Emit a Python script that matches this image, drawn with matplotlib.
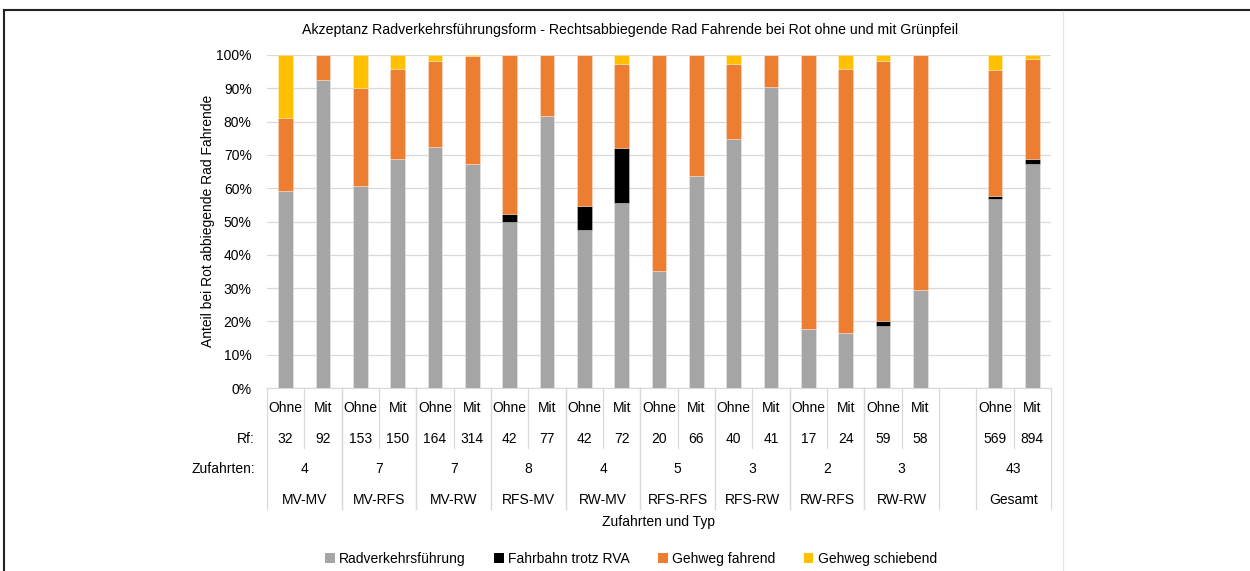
import matplotlib
matplotlib.use("Agg")
import matplotlib.pyplot as plt
from matplotlib.lines import Line2D
from matplotlib.patches import Patch
from matplotlib.transforms import blended_transform_factory
import numpy as np

plt.rcParams['font.family'] = ['Liberation Sans', 'DejaVu Sans']

title = "Akzeptanz Radverkehrsführungsform - Rechtsabbiegende Rad Fahrende bei Rot ohne und mit Grünpfeil"
types = ["MV-MV", "MV-RFS", "MV-RW", "RFS-MV", "RW-MV", "RFS-RFS", "RFS-RW", "RW-RFS", "RW-RW", "Gesamt"]
zufahrten = [4, 7, 7, 8, 4, 5, 3, 2, 3, 43]
variants = ["Ohne", "Mit"]
rf = [32, 92, 153, 150, 164, 314, 42, 77, 42, 72, 20, 66, 40, 41, 17, 24, 59, 58, 569, 894]

# shares in percent, one value per bar (Ohne, Mit per type)
radverkehr = [59.3, 92.4, 60.8, 68.7, 72.5, 67.4, 49.9, 81.8, 47.5, 55.5,
              35.0, 63.6, 74.9, 90.3, 17.6, 16.5, 18.6, 29.3, 56.8, 67.4]
fahrbahn = [0, 0, 0, 0, 0, 0, 2.4, 0, 7.2, 16.6,
            0, 0, 0, 0, 0, 0, 1.6, 0, 0.9, 1.4]
gehweg_fahrend = [21.9, 7.6, 29.4, 27.2, 25.7, 32.2, 47.7, 18.2, 45.3, 25.1,
                  65.0, 36.4, 22.5, 9.7, 82.4, 79.3, 78.1, 70.7, 37.7, 30.1]
gehweg_schiebend = [18.8, 0, 9.8, 4.1, 1.8, 0.4, 0, 0, 0, 2.8,
                    0, 0, 2.6, 0, 0, 4.2, 1.7, 0, 4.6, 1.1]

series = [("Radverkehrsführung", radverkehr, "#a5a5a5"),
          ("Fahrbahn trotz RVA", fahrbahn, "#000000"),
          ("Gehweg fahrend", gehweg_fahrend, "#ed7d31"),
          ("Gehweg schiebend", gehweg_schiebend, "#ffc000")]

W, H = 1250, 571
fig = plt.figure(figsize=(W / 100, H / 100), dpi=100)
ax = fig.add_axes([267 / W, 1 - 388 / H, (1051 - 267) / W, (388 - 55) / H])

# slot positions: 9 types x 2, one empty slot, then Gesamt
slots = list(range(18)) + [19, 20]
x = np.array(slots)

bottom = np.zeros(len(x))
for name, vals, col in series:
    vals = np.array(vals, dtype=float)
    ax.bar(x, vals / 100, width=0.4, bottom=bottom, color=col,
           edgecolor=(1, 1, 1, 0.35), linewidth=0.6, zorder=3, label=name)
    bottom += vals / 100

ax.set_xlim(-0.5, 20.5)
ax.set_ylim(0, 1)
ax.set_yticks(np.arange(0, 1.01, 0.1))
ax.set_yticklabels([f"{int(round(v * 100))}%" for v in np.arange(0, 1.01, 0.1)], fontsize=10)
ax.tick_params(axis='y', length=0, pad=11)
ax.set_xticks([])
ax.grid(axis='y', color='#d9d9d9', linewidth=0.9, zorder=0)
for s in ['top', 'right', 'left']:
    ax.spines[s].set_visible(False)
ax.spines['bottom'].set_color('#d9d9d9')
ax.spines['bottom'].set_linewidth(0.9)

# category table below the axis
tr = blended_transform_factory(ax.transData, fig.transFigure)
fy = lambda py: 1 - py / H
sep = '#d9d9d9'

for i, xi in enumerate(x):
    ax.text(xi, fy(408), variants[i % 2], transform=tr, ha='center', va='center', fontsize=10)
    ax.text(xi, fy(439), str(rf[i]), transform=tr, ha='center', va='center', fontsize=10)

group_centers = [2 * k + 0.5 for k in range(9)] + [19.5]
for k, gc in enumerate(group_centers):
    ax.text(gc, fy(469), str(zufahrten[k]), transform=tr, ha='center', va='center', fontsize=10)
    ax.text(gc, fy(500), types[k], transform=tr, ha='center', va='center', fontsize=10)
    left, right = gc - 1, gc + 1
    for edge in (left, right):
        fig.add_artist(Line2D([edge, edge], [fy(388), fy(509)], transform=tr, color=sep, linewidth=0.9))
    fig.add_artist(Line2D([gc, gc], [fy(388), fy(448)], transform=tr, color=sep, linewidth=0.9))

fig.text(255 / W, fy(439), "Rf:", ha='right', va='center', fontsize=10)
fig.text(255 / W, fy(469), "Zufahrten:", ha='right', va='center', fontsize=10)
fig.text(659 / W, fy(522), "Zufahrten und Typ", ha='center', va='center', fontsize=10)
fig.text(208 / W, fy(221), "Anteil bei Rot abbiegende Rad Fahrende", rotation=90,
         ha='center', va='center', fontsize=10)
fig.text(630 / W, fy(30), title, ha='center', va='center', fontsize=10.2)

handles = [Patch(facecolor=c, edgecolor='none', label=n) for n, _, c in series]
fig.legend(handles=handles, loc='center', bbox_to_anchor=(631 / W, fy(559)), ncol=4,
           frameon=False, fontsize=10, handlelength=0.7, handleheight=0.7,
           handletextpad=0.35, columnspacing=2.0)

# chart frame
fig.add_artist(Line2D([4 / W, 4 / W], [0, fy(10)], color='#222222', linewidth=1.5))
fig.add_artist(Line2D([4 / W, 1], [fy(10), fy(10)], color='#222222', linewidth=1.5))
fig.add_artist(Line2D([1063 / W, 1063 / W], [0, fy(11)], color='#e6e6e6', linewidth=0.9))

fig.savefig("out.png", dpi=100)
